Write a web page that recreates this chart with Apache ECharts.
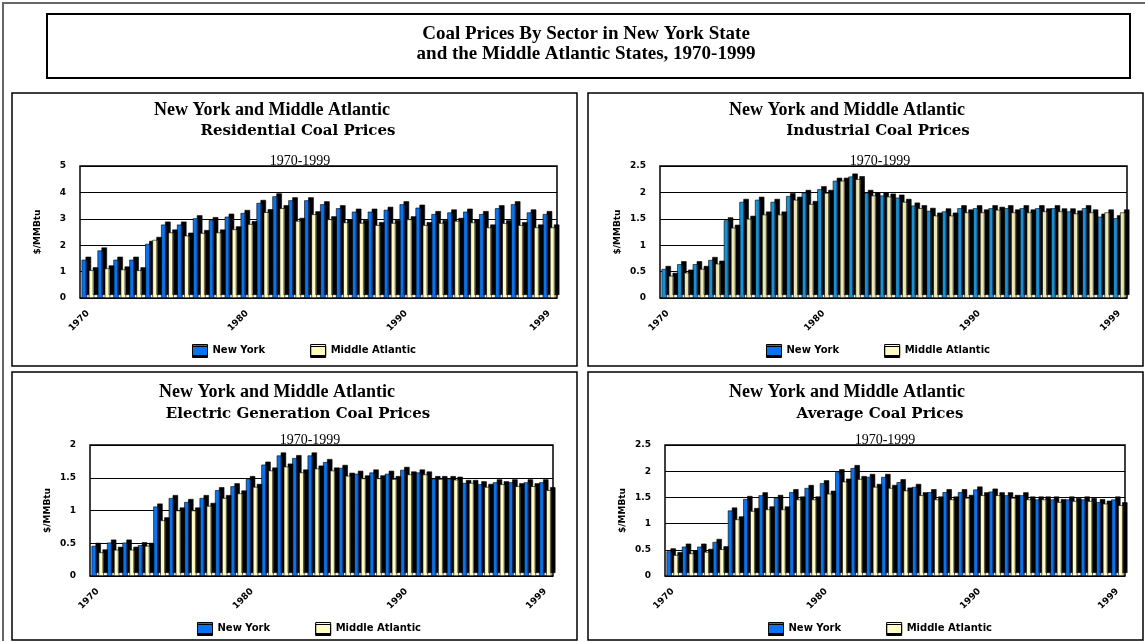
<!DOCTYPE html>
<html>
<head>
<meta charset="utf-8">
<title>Coal Prices By Sector</title>
<script src="https://cdn.jsdelivr.net/npm/echarts@6/dist/echarts.min.js"></script>
<style>
html, body { margin: 0; padding: 0; background: #fff; }
#chart { width: 1145px; height: 642px; }
</style>
</head>
<body>
<div id="chart"></div>
<script>
// years on the category axis
const years = ['1970','1971','1972','1973','1974','1975','1976','1977','1978','1979',
  '1980','1981','1982','1983','1984','1985','1986','1987','1988','1989',
  '1990','1991','1992','1993','1994','1995','1996','1997','1998','1999'];
const shownYears = ['1970','1980','1990','1999'];

// $/MMBtu
const residentialNY = [1.45,1.80,1.45,1.45,2.05,2.78,2.78,3.02,2.95,3.08,3.22,3.60,3.85,3.70,3.70,3.55,3.40,3.27,3.27,3.34,3.55,3.42,3.18,3.24,3.27,3.18,3.40,3.55,3.24,3.18];
const residentialMA = [1.05,1.12,1.08,1.05,2.20,2.48,2.36,2.46,2.48,2.60,2.80,3.25,3.40,2.92,3.17,2.98,2.86,2.84,2.76,2.84,2.98,2.76,2.84,2.92,2.86,2.67,2.83,2.76,2.67,2.67];
const industrialNY = [0.55,0.64,0.64,0.72,1.47,1.82,1.86,1.82,1.93,1.99,2.06,2.22,2.30,1.99,1.94,1.90,1.75,1.65,1.64,1.70,1.70,1.70,1.70,1.70,1.70,1.70,1.64,1.70,1.54,1.51];
const industrialMA = [0.42,0.48,0.55,0.65,1.33,1.50,1.58,1.58,1.86,1.78,1.99,2.22,2.25,1.94,1.92,1.82,1.70,1.56,1.56,1.62,1.62,1.67,1.62,1.62,1.64,1.64,1.60,1.62,1.62,1.62];
const electricNY = [0.46,0.51,0.51,0.47,1.06,1.19,1.13,1.19,1.31,1.37,1.48,1.70,1.84,1.80,1.84,1.74,1.65,1.56,1.58,1.56,1.62,1.58,1.48,1.48,1.42,1.40,1.43,1.43,1.43,1.43];
const electricMA = [0.36,0.40,0.40,0.46,0.85,1.00,1.00,1.07,1.19,1.26,1.36,1.61,1.67,1.58,1.64,1.61,1.53,1.49,1.49,1.48,1.55,1.55,1.48,1.47,1.42,1.36,1.40,1.37,1.37,1.31];
const averageNY = [0.47,0.56,0.56,0.65,1.25,1.47,1.54,1.49,1.60,1.68,1.77,1.98,2.06,1.89,1.89,1.79,1.70,1.60,1.60,1.60,1.65,1.61,1.54,1.54,1.46,1.46,1.46,1.46,1.41,1.46];
const averageMA = [0.40,0.43,0.46,0.51,1.08,1.24,1.27,1.27,1.46,1.46,1.57,1.80,1.85,1.70,1.68,1.63,1.54,1.46,1.46,1.49,1.54,1.54,1.49,1.46,1.46,1.41,1.43,1.43,1.38,1.35];

const seriesNames = ['New York', 'Middle Atlantic'];
const mainTitle = ['Coal Prices By Sector in New York State', 'and the Middle Atlantic States, 1970-1999'];
const panelTitle = 'New York and Middle Atlantic';
const panelSubtitle = '1970-1999';
const sectors = ['Residential Coal Prices', 'Industrial Coal Prices', 'Electric Generation Coal Prices', 'Average Coal Prices'];
const yMax = [5, 2.5, 2, 2.5];
const yStep = [1, 0.5, 0.5, 0.5];

const panels = [
  { name: sectors[0], ny: residentialNY, ma: residentialMA, box: [12, 93, 565, 273],
    grid: { left: 80, top: 166, width: 477, height: 132 }, t1: 272, t2: 298, t1y: 110, t2y: 131,
    legend: { left: 192, top: 344 }, nyColor: '#0a72ea', maColor: '#fffbc4' },
  { name: sectors[1], ny: industrialNY, ma: industrialMA, box: [588, 93, 555, 273],
    grid: { left: 660, top: 166, width: 467, height: 132 }, t1: 847, t2: 878, t1y: 110, t2y: 131,
    legend: { left: 766, top: 344 }, nyColor: '#1a8fd2', maColor: '#ece8b4' },
  { name: sectors[2], ny: electricNY, ma: electricMA, box: [12, 372, 565, 268],
    grid: { left: 90, top: 445, width: 463, height: 131 }, t1: 277, t2: 298, t1y: 392, t2y: 414,
    legend: { left: 197, top: 622 }, nyColor: '#0a72ea', maColor: '#fffbc4' },
  { name: sectors[3], ny: averageNY, ma: averageMA, box: [588, 372, 555, 268],
    grid: { left: 665, top: 445, width: 460, height: 131 }, t1: 847, t2: 880, t1y: 392, t2y: 414,
    legend: { left: 768, top: 622 }, nyColor: '#0a72ea', maColor: '#fffbc4' }
];

const chart = echarts.init(document.getElementById('chart'));

let grids = [], xAxes = [], yAxes = [], series = [], legends = [];
let graphics = [
  // outer frame
  { type: 'polyline', shape: { points: [[3, 641], [3, 3], [1145, 3]] }, style: { stroke: '#666', lineWidth: 2, fill: null } },
  // main title box
  { type: 'rect', shape: { x: 47, y: 14, width: 1083, height: 64 }, style: { stroke: '#000', lineWidth: 2, fill: '#fff' } },
  { type: 'text', x: 586, y: 34, style: { text: mainTitle[0], font: 'bold 19px "Liberation Serif"', fill: '#000', textAlign: 'center', textVerticalAlign: 'middle' } },
  { type: 'text', x: 586, y: 54, style: { text: mainTitle[1], font: 'bold 19px "Liberation Serif"', fill: '#000', textAlign: 'center', textVerticalAlign: 'middle' } }
];

panels.forEach(function (p, i) {
  graphics.push({ type: 'rect', z: -1, shape: { x: p.box[0], y: p.box[1], width: p.box[2], height: p.box[3] },
    style: { stroke: '#000', lineWidth: 1.5, fill: '#fff' } });
  graphics.push({ type: 'text', x: p.t1, y: p.t1y, style: { text: panelTitle, font: 'bold 18px "Liberation Serif"', fill: '#000', textAlign: 'center', textVerticalAlign: 'middle' } });
  graphics.push({ type: 'text', x: p.t2, y: p.t2y, style: { text: p.name, font: 'bold 15px "DejaVu Serif"', fill: '#000', textAlign: 'center', textVerticalAlign: 'middle' } });
  graphics.push({ type: 'text', z: 10, x: p.grid.left + 220, y: p.grid.top + 2, style: { text: panelSubtitle, font: '14px "Liberation Serif"', fill: '#000', textAlign: 'center', textVerticalAlign: 'bottom' } });

  grids.push(Object.assign({ show: true, borderColor: '#000', borderWidth: 1.5, backgroundColor: '#fff' }, p.grid));

  xAxes.push({
    type: 'category', gridIndex: i, data: years,
    axisLine: { show: false }, axisTick: { show: false },
    axisLabel: {
      rotate: 45, margin: 14, fontSize: 9, fontWeight: 'bold', fontFamily: 'DejaVu Sans', color: '#000',
      interval: function (idx, val) { return shownYears.indexOf(val) >= 0; }
    }
  });
  yAxes.push({
    type: 'value', gridIndex: i, min: 0, max: yMax[i], interval: yStep[i],
    name: '$/MMBtu', nameLocation: 'middle', nameGap: 38, nameRotate: 90,
    nameTextStyle: { fontSize: 9, fontWeight: 'bold', fontFamily: 'DejaVu Sans', color: '#000' },
    axisLine: { show: false }, axisTick: { show: false },
    axisLabel: { fontSize: 9, fontWeight: 'bold', fontFamily: 'DejaVu Sans', color: '#000', margin: 14 },
    splitLine: { lineStyle: { color: '#000', width: 1.2 } }
  });

  const barStyle = function (c) {
    return { color: c, borderColor: '#000', borderWidth: 0.6, shadowColor: '#000', shadowBlur: 0, shadowOffsetX: 4, shadowOffsetY: -3 };
  };
  series.push({ name: seriesNames[0], type: 'bar', xAxisIndex: i, yAxisIndex: i, data: p.ny,
    barGap: '30%', barCategoryGap: '20%', itemStyle: barStyle(p.nyColor) });
  series.push({ name: seriesNames[1], type: 'bar', xAxisIndex: i, yAxisIndex: i, data: p.ma,
    barGap: '30%', barCategoryGap: '20%', itemStyle: barStyle(p.maColor) });

  legends.push({
    data: seriesNames, left: p.legend.left, top: p.legend.top, icon: 'rect',
    itemWidth: 15, itemHeight: 11, itemGap: 45, padding: 0,
    itemStyle: { borderColor: '#000', borderWidth: 1, shadowColor: '#000', shadowBlur: 0, shadowOffsetX: 0, shadowOffsetY: 2 },
    textStyle: { fontSize: 10, fontWeight: 'bold', fontFamily: 'DejaVu Sans', color: '#000' }
  });
});

chart.setOption({
  backgroundColor: '#fff',
  animation: false,
  graphic: graphics,
  grid: grids,
  xAxis: xAxes,
  yAxis: yAxes,
  legend: legends,
  series: series
});
</script>
</body>
</html>
